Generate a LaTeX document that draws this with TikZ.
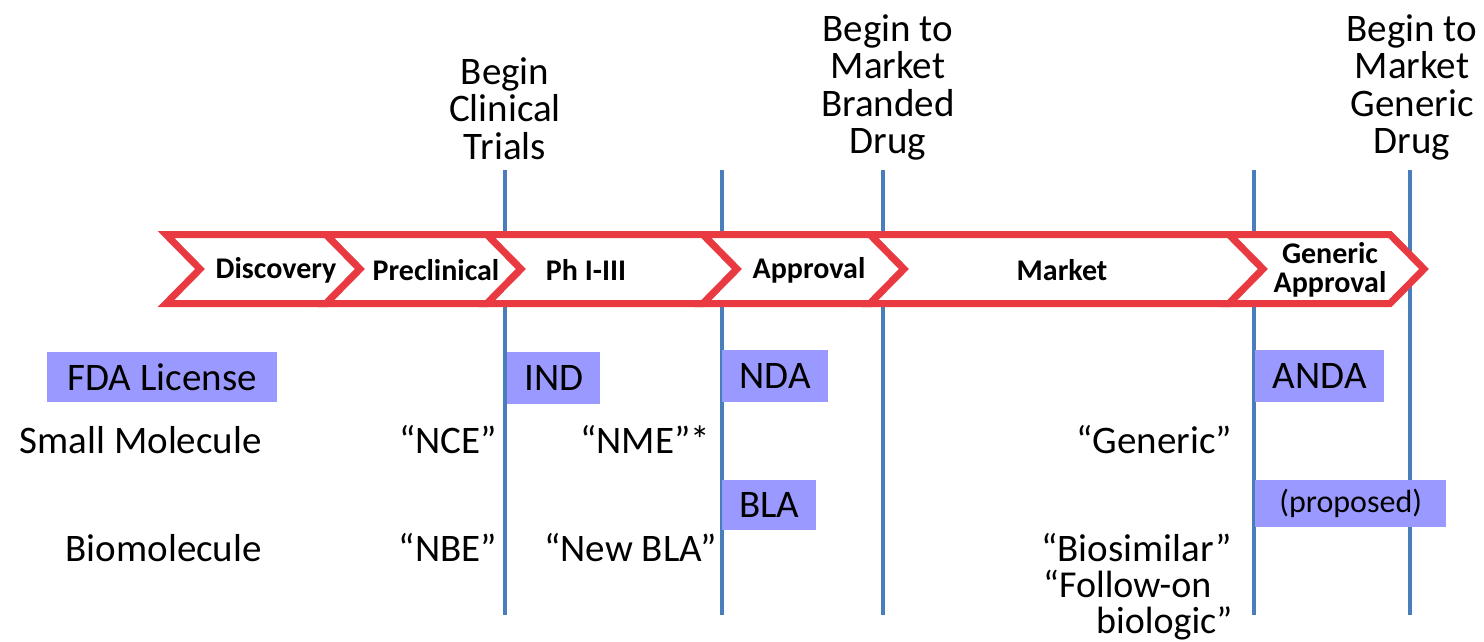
\documentclass[tikz,border=0pt]{standalone}
\usepackage{fontspec}
\setmainfont{Carlito}
\definecolor{chevred}{RGB}{232,58,64}
\definecolor{lineblue}{RGB}{74,126,187}
\definecolor{boxpurple}{RGB}{153,153,255}
\begin{document}
\begin{tikzpicture}[x=1pt,y=-1pt,
  vline/.style={draw=lineblue, line width=3.2pt},
  chev/.style={draw=chevred, fill=white, line width=7pt, line join=miter},
  ctext/.style={font=\fontsize{30}{29}\selectfont\bfseries, align=center, inner sep=0},
  lbl/.style={font=\fontsize{39}{37.5}\selectfont, inner sep=0},
  hdr/.style={lbl, align=center, anchor=north},
  lic/.style={fill=boxpurple, font=\fontsize{39}{39}\selectfont, inner sep=0, anchor=north west}]
\useasboundingbox (0,0) rectangle (1484,641);
% vertical lines
\foreach \n/\x in {1/505,2/722,3/883,4/1254,5/1410}{
  \coordinate (t\n) at (\x,170);
  \coordinate (b\n) at (\x,615);
  \draw[vline] (t\n) -- (b\n);
}
% headers
\node[hdr] (hclin) at (505,57) {Begin\\Clinical\\Trials};
\node[hdr] (hbrand) at (888,14) {Begin to\\Market\\Branded\\Drug};
\node[hdr] (hgen) at (1412,14) {Begin to\\Market\\Generic\\Drug};
% chevrons
\def\ct{234.5}\def\cb{303.5}\def\cm{269}\def\cd{34}
\foreach \a/\b in {166/326,326/487,487/703,703/870,870/1229,1229/1390}{
  \draw[chev] (\a,\ct) -- (\b,\ct) -- (\b+\cd,\cm) -- (\b,\cb) -- (\a,\cb) -- (\a+\cd,\cm) -- cycle;
}
\node[ctext] (cdisc) at (276,270) {Discovery};
\node[ctext] (cpre) at (436,270) {Preclinical};
\node[ctext] (cph) at (586,270) {Ph I-III};
\node[ctext] (capp) at (809,270) {Approval};
\node[ctext] (cmkt) at (1062,270) {Market};
\node[ctext] (cgen) at (1330,270) {Generic\\Approval};
% license boxes
\node[lic, minimum width=230, minimum height=50] (fda) at (47,352) {FDA License};
\node[lic, minimum width=93, minimum height=52] (ind) at (507,352) {IND};
\node[lic, minimum width=106, minimum height=52] (nda) at (722,350) {NDA};
\node[lic, minimum width=94, minimum height=50] (bla) at (722,480) {BLA};
\node[lic, minimum width=129, minimum height=52] (anda) at (1255,350) {ANDA};
\node[lic, minimum width=191, minimum height=47, font=\fontsize{32}{32}\selectfont] (prop) at (1255,480) {(proposed)};
% row labels
\node[lbl, anchor=base east] (sm) at (262,453) {Small Molecule};
\node[lbl, anchor=base east] (nce) at (497,453) {“NCE”};
\node[lbl, anchor=base east] (nme) at (710,453) {“NME”*};
\node[lbl, anchor=base east] (gener) at (1232,453) {“Generic”};
\node[lbl, anchor=base east] (bio) at (262,561) {Biomolecule};
\node[lbl, anchor=base east] (nbe) at (497,561) {“NBE”};
\node[lbl, anchor=base east] (newbla) at (717,561) {“New BLA”};
\node[lbl, anchor=base east] (biosim) at (1232,561) {“Biosimilar”};
\node[lbl, align=left, anchor=north west, font=\fontsize{38}{36}\selectfont] (follow) at (1043,570) {“Follow-on\\\hspace*{53pt}biologic”};
\end{tikzpicture}
\end{document}
